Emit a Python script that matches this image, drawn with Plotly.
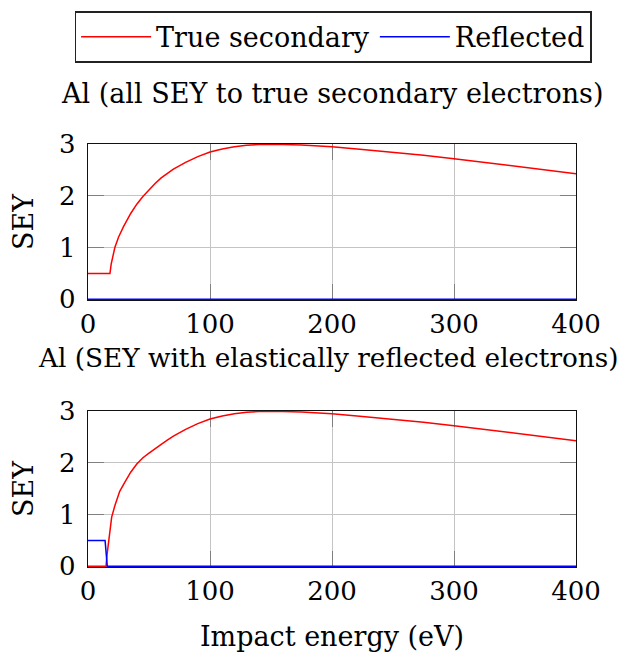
import plotly.graph_objects as go

# ---- data ----
energy_top = [0, 18, 19, 20, 21, 22, 25, 29, 35, 40, 45, 50, 55, 60, 65, 70, 80, 90, 100,
              110, 120, 130, 140, 150, 160, 175, 200, 225, 250, 275, 300, 325, 350, 375, 400]
true_top = [0.5, 0.5, 0.68, 0.8, 0.9, 1.0, 1.2, 1.4, 1.66, 1.84, 1.99, 2.12, 2.24, 2.35, 2.44, 2.52, 2.65, 2.76, 2.85,
            2.91, 2.95, 2.98, 2.995, 3.0, 2.995, 2.985, 2.95, 2.9, 2.845, 2.785, 2.72, 2.65, 2.58, 2.505, 2.43]
refl_top_energy = [0, 400]
refl_top = [0, 0]

energy_bot = [0, 14.8, 15.5, 16.6, 18, 19.4, 22, 26, 30, 35, 40, 45, 50, 55, 60, 65, 70, 80, 90, 100,
              110, 120, 130, 140, 150, 160, 175, 200, 225, 250, 275, 300, 325, 350, 375, 400]
true_bot = [0, 0, 0.2, 0.39, 0.7, 0.95, 1.17, 1.45, 1.62, 1.82, 1.98, 2.1, 2.19, 2.28, 2.36, 2.44, 2.52, 2.65, 2.76, 2.85,
            2.91, 2.95, 2.98, 2.995, 3.0, 2.995, 2.985, 2.95, 2.9, 2.845, 2.785, 2.72, 2.65, 2.58, 2.505, 2.43]
refl_bot_energy = [0, 14, 15.8, 400]
refl_bot = [0.5, 0.5, 0, 0]

x_ticks = [0, 100, 200, 300, 400]
y_ticks = [0, 1, 2, 3]
series_names = ["True secondary", "Reflected"]
panel_titles = ["Al (all SEY to true secondary electrons)",
                "Al (SEY with elastically reflected electrons)"]
x_title = "Impact energy (eV)"
y_title = "SEY"

FONT = "DejaVu Serif"
FS = 27
TFS = 26
# the page body adds an 8px margin, so the figure is 8px smaller and all positions are shifted by -8
OFF = 8
W, H = 630 - OFF, 652 - OFF
RED, BLUE = "#ff0000", "#0000ff"


def px_x(x):
    return (x - OFF) / W


def px_y(y):
    return (H - (y - OFF)) / H


fig = go.Figure()
fig.add_trace(go.Scatter(x=energy_top, y=true_top, mode="lines", name=series_names[0],
                         line=dict(color=RED, width=1.5), xaxis="x", yaxis="y"))
fig.add_trace(go.Scatter(x=refl_top_energy, y=refl_top, mode="lines", name=series_names[1],
                         line=dict(color=BLUE, width=1.5), xaxis="x", yaxis="y"))
fig.add_trace(go.Scatter(x=energy_bot, y=true_bot, mode="lines", name=series_names[0], showlegend=False,
                         line=dict(color=RED, width=1.5), xaxis="x2", yaxis="y2"))
fig.add_trace(go.Scatter(x=refl_bot_energy, y=refl_bot, mode="lines", name=series_names[1], showlegend=False,
                         line=dict(color=BLUE, width=1.5), xaxis="x2", yaxis="y2"))

xdom = [px_x(88), px_x(576)]
ydom1 = [px_y(300), px_y(144)]
ydom2 = [px_y(567), px_y(411)]

common = dict(showline=True, linecolor="#111111", linewidth=1.4, mirror="ticks",
              ticks="inside", ticklen=16, tickcolor="#808080", tickwidth=1,
              showgrid=True, gridcolor="#c4c4c4", gridwidth=1, zeroline=False, automargin=False,
              layer="below traces", tickfont=dict(family=FONT, size=TFS, color="black"))

xa = dict(common, range=[0, 400], tickvals=x_ticks, ticktext=[str(v) for v in x_ticks],
          ticklabelstandoff=1)
ya = dict(common, range=[-0.015, 3.005], tickvals=y_ticks, ticktext=[str(v) for v in y_ticks],
          ticklabelstandoff=6)

fig.update_layout(
    width=W, height=H,
    margin=dict(l=0, r=0, t=0, b=0, autoexpand=False),
    paper_bgcolor="white", plot_bgcolor="white",
    font=dict(family=FONT, size=FS, color="black"),
    xaxis=dict(xa, domain=xdom, anchor="y"),
    yaxis=dict(ya, domain=ydom1, anchor="x",
               title=dict(text=y_title, font=dict(family=FONT, size=FS), standoff=17)),
    xaxis2=dict(xa, domain=xdom, anchor="y2",
                title=dict(text=x_title, font=dict(family=FONT, size=FS), standoff=27)),
    yaxis2=dict(ya, domain=ydom2, anchor="x2",
                title=dict(text=y_title, font=dict(family=FONT, size=FS), standoff=17)),
    showlegend=True,
    legend=dict(orientation="h", x=px_x(333), xanchor="center", y=px_y(11), yanchor="top",
                bordercolor="#222222", borderwidth=1.6, bgcolor="white",
                font=dict(family=FONT, size=FS), itemwidth=70),
    annotations=[
        dict(text=panel_titles[0], xref="paper", yref="paper", x=px_x(332), y=px_y(94),
             xanchor="center", yanchor="middle", showarrow=False, font=dict(family=FONT, size=FS)),
        dict(text=panel_titles[1], xref="paper", yref="paper", x=px_x(329), y=px_y(358),
             xanchor="center", yanchor="middle", showarrow=False, font=dict(family=FONT, size=26.3)),
    ],
)

fig.write_html("out.html")
